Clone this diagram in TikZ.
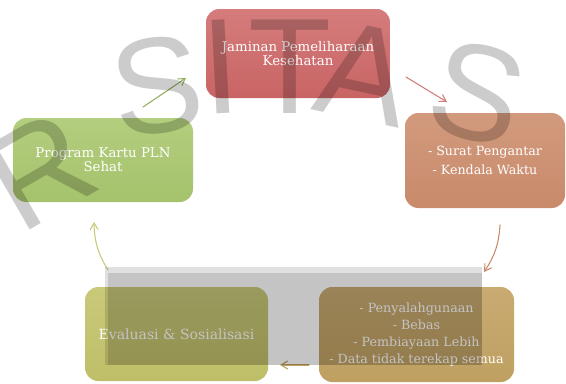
\documentclass[tikz,border=0pt]{standalone}
\usepackage{fontspec}
\setmainfont{DejaVu Serif}
\newfontfamily\wmfont{Liberation Sans}
\usetikzlibrary{arrows.meta}

\definecolor{jpktop}{HTML}{D57C7C}
\definecolor{jpkbot}{HTML}{C96464}
\definecolor{surtop}{HTML}{D29A7D}
\definecolor{surbot}{HTML}{C88A6B}
\definecolor{pentop}{HTML}{C9AB72}
\definecolor{penbot}{HTML}{BFA062}
\definecolor{evatop}{HTML}{C9C97A}
\definecolor{evabot}{HTML}{BFBE68}
\definecolor{protop}{HTML}{B3CE7E}
\definecolor{probot}{HTML}{A5C26C}

\tikzset{
  cyclebox/.style={rounded corners=10pt, align=center, text=white, inner sep=2pt,
    font=\fontsize{10}{10.5}\selectfont},
  cyclearrow/.style={-{Straight Barb[length=5pt,width=6pt]}, line width=0.8pt, line cap=round},
  wmletter/.style={text=black, text opacity=0.2, inner sep=0pt,
    font=\wmfont\fontsize{102}{102}\selectfont}
}

\begin{document}
\begin{tikzpicture}[x=0.75pt,y=-0.75pt]
\useasboundingbox (0,0) rectangle (566,383);
\fill[white] (0,0) rectangle (566,383);

% kotak siklus
\node[cyclebox, top color=jpktop, bottom color=jpkbot, minimum width=138pt, minimum height=66.75pt]
  (jpk) at (298,53.5) {Jaminan Pemeliharaan\\Kesehatan};
\node[cyclebox, top color=surtop, bottom color=surbot, minimum width=120pt, minimum height=71.25pt,
  font=\fontsize{9.5}{14}\selectfont]
  (surat) at (485,160.5) {- Surat Pengantar\\- Kendala Waktu};
\node[cyclebox, top color=pentop, bottom color=penbot, minimum width=146.25pt, minimum height=71.25pt,
  font=\fontsize{9.5}{12.75}\selectfont]
  (penyalah) at (416.5,334.5) {- Penyalahgunaan\\- Bebas\\- Pembiayaan Lebih\\- Data tidak terekap semua};
\node[cyclebox, top color=evatop, bottom color=evabot, minimum width=137.25pt, minimum height=70.5pt,
  font=\fontsize{10.5}{12}\selectfont]
  (evaluasi) at (176.5,334) {Evaluasi \& Sosialisasi};
\node[cyclebox, top color=protop, bottom color=probot, minimum width=135pt, minimum height=63pt]
  (program) at (103,160) {Program Kartu PLN\\Sehat};

% panah
\coordinate (a1s) at (143,107);
\coordinate (a1e) at (186,78);
\coordinate (a2s) at (406,77);
\coordinate (a2e) at (447,102);
\coordinate (a3s) at (500,225);
\coordinate (a3e) at (484,272);
\coordinate (a4s) at (309,365);
\coordinate (a4e) at (280,365);
\coordinate (a5s) at (108,270);
\coordinate (a5e) at (94,222);
\draw[cyclearrow, color=probot!90!black] (a1s) -- (a1e);
\draw[cyclearrow, color=jpktop] (a2s) -- (a2e);
\draw[cyclearrow, color=surbot] (a3s) to[bend left=15] (a3e);
\draw[cyclearrow, color=penbot] (a4s) -- (a4e);
\draw[cyclearrow, color=evatop] (a5s) to[bend left=15] (a5e);

% watermark
\fill[black, fill opacity=0.12] (105,267) rectangle (482,365);
\fill[black, fill opacity=0.12] (108,273) rectangle (482,365);
\node[wmletter, rotate=30] (wmR) at (40,170) {R};
\node[wmletter, rotate=8] (wmS) at (157,86) {S};
\node[wmletter, rotate=3] (wmI) at (221,67) {I};
\node[wmletter] (wmT) at (290,67) {T};
\node[wmletter, rotate=-12] (wmA) at (365,73) {A};
\node[wmletter, rotate=-15] (wmSS) at (477,93) {S};

\end{tikzpicture}
\end{document}
